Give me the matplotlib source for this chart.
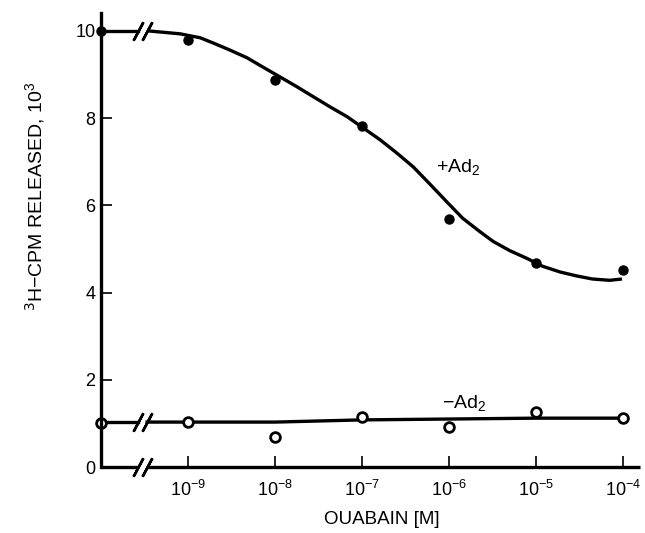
import numpy as np
import matplotlib
matplotlib.use("Agg")
import matplotlib.pyplot as plt

plt.rcParams['font.family'] = ['Liberation Sans', 'DejaVu Sans']
plt.rcParams['mathtext.fontset'] = 'custom'
plt.rcParams['mathtext.rm'] = 'Liberation Sans'
plt.rcParams['mathtext.it'] = 'Liberation Sans:italic'
plt.rcParams['mathtext.bf'] = 'Liberation Sans:bold'

# log10 of ouabain concentration; -10 stands for the control (no ouabain)
conc_log = [-10, -9, -8, -7, -6, -5, -4]
plus_ad2 = [10.0, 9.79, 8.88, 7.82, 5.69, 4.68, 4.52]
minus_ad2 = [1.01, 1.03, 0.69, 1.15, 0.92, 1.26, 1.12]

# fitted curves as drawn in the figure
plus_curve_x = [-9.47, -9.09, -8.86, -8.71, -8.52, -8.32, -8.14, -7.94, -7.75,
                -7.56, -7.37, -7.17, -6.99, -6.79, -6.60, -6.41, -6.22, -6.02,
                -5.84, -5.64, -5.49, -5.30, -5.10, -4.92, -4.72, -4.53, -4.35,
                -4.15, -4.01]
plus_curve_y = [10.0, 9.93, 9.84, 9.72, 9.56, 9.38, 9.17, 8.94, 8.72,
                8.49, 8.26, 8.03, 7.78, 7.50, 7.20, 6.88, 6.49, 6.07,
                5.70, 5.39, 5.17, 4.96, 4.78, 4.60, 4.47, 4.38, 4.31,
                4.28, 4.31]
minus_curve_x = [-9.47, -8.0, -7.0, -6.0, -5.0, -4.0]
minus_curve_y = [1.03, 1.03, 1.08, 1.10, 1.12, 1.12]

xticks = [-9, -8, -7, -6, -5, -4]
xticklabels = ['$10^{-9}$', '$10^{-8}$', '$10^{-7}$', '$10^{-6}$', '$10^{-5}$', '$10^{-4}$']
yticks = [0, 2, 4, 6, 8, 10]

brk = -9.52   # axis break position
gap = 0.05
lw = 2.4
slash = (2, 2, -28)

fig = plt.figure(figsize=(6.45, 5.33), dpi=100)
ax = fig.add_axes([0.1566, 0.1238, 0.836, 0.852])
ax.set_xlim(-10, -3.8)
ax.set_ylim(0, 10.41)

for s in ['top', 'right', 'bottom']:
    ax.spines[s].set_visible(False)
ax.spines['left'].set_linewidth(lw)

# bottom axis with break
ax.plot([-10, brk - gap], [0, 0], color='k', lw=lw, clip_on=False, solid_capstyle='butt')
ax.plot([brk + gap, -3.8], [0, 0], color='k', lw=lw, clip_on=False, solid_capstyle='butt')
ax.plot([brk - gap, brk + gap], [0, 0], ls='none', marker=slash, ms=15, mew=1.8,
        color='k', clip_on=False)

# +Ad2
ax.plot([conc_log[0], brk - gap], [plus_ad2[0], plus_ad2[0]], color='k', lw=lw)
ax.plot([brk - gap, brk + gap], [plus_ad2[0], plus_ad2[0]], ls='none', marker=slash,
        ms=15, mew=1.8, color='k')
ax.plot(plus_curve_x, plus_curve_y, color='k', lw=lw, solid_joinstyle='round',
        solid_capstyle='butt')
ax.plot(conc_log, plus_ad2, 'o', color='k', ms=6.5, clip_on=False)

# -Ad2
ax.plot([conc_log[0], brk - gap], [minus_curve_y[0], minus_curve_y[0]], color='k', lw=lw)
ax.plot([brk - gap, brk + gap], [minus_curve_y[0], minus_curve_y[0]], ls='none',
        marker=slash, ms=15, mew=1.8, color='k')
ax.plot(minus_curve_x, minus_curve_y, color='k', lw=lw)
ax.plot(conc_log, minus_ad2, 'o', mfc='white', mec='k', mew=2, ms=7, clip_on=False)

ax.text(-6.15, 6.88, r'$+$Ad$_2$', fontsize=14, va='center', ha='left')
ax.text(-6.08, 1.47, r'$-$Ad$_2$', fontsize=14, va='center', ha='left')

ax.set_xticks(xticks)
ax.set_xticklabels(xticklabels, fontsize=13)
ax.set_yticks(yticks)
ax.set_yticklabels([str(v) for v in yticks], fontsize=13)
ax.tick_params(axis='x', direction='in', length=8, width=1.2, pad=9)
ax.tick_params(axis='y', direction='in', length=8, width=1.2, pad=4)

fig.text(382 / 645, 1 - 520 / 533, 'OUABAIN [M]', fontsize=13.5, ha='center', va='center')
fig.text(35 / 645, 1 - 196 / 533, r'$^{\mathsf{3}}$H$-$CPM RELEASED, 10$^3$', fontsize=14,
         ha='center', va='center', rotation=90)

fig.savefig('out.png', dpi=100, facecolor='white')
